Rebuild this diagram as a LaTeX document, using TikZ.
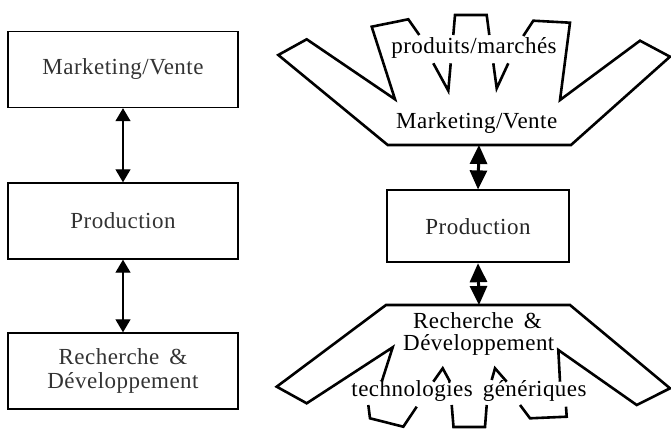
\documentclass[tikz,border=0pt]{standalone}
\usepackage{fontspec}
\setmainfont{Liberation Serif}[LetterSpace=2]
\usetikzlibrary{arrows.meta}
\begin{document}
\begin{tikzpicture}[x=1pt,y=-1pt,
  txt/.style={font=\fontsize{23}{24}\selectfont, inner sep=0pt},
  leftbox/.style={draw, line width=1.4pt, minimum width=230pt, minimum height=76pt, align=center, text=black!80, font=\fontsize{23}{24}\selectfont},
  rightbox/.style={draw, line width=1.8pt, minimum width=182pt, minimum height=72pt, text=black!85, font=\fontsize{23}{24}\selectfont},
  outline/.style={line width=2.6pt, line join=miter},
  thinarrow/.style={line width=1.3pt, {Triangle[length=13pt,width=15pt]}-{Triangle[length=13pt,width=15pt]}},
  thickarrow/.style={line width=3pt, {Triangle[length=19pt,width=17pt]}-{Triangle[length=19pt,width=17pt]}}]
\clip (0,0) rectangle (671,430);
\fill[white] (0,0) rectangle (671,430);

% left column
\node[leftbox] (lmv) at (123,69.5) {Marketing/Vente};
\node[leftbox] (lpr) at (123,221) {Production};
\node[leftbox] (lrd) at (123,371) {Recherche \,\&\\Développement};
\draw[thinarrow] (lmv.south) -- (lpr.north);
\draw[thinarrow] (lpr.south) -- (lrd.north);

% right column: top shape
\draw[outline] (419.3,35) -- (408.3,19.3) -- (371.7,26.7) -- (395,99.3) -- (306.7,39.3)
  -- (278.3,55) -- (387.7,145) -- (571,145) -- (670,56.7) -- (640,40.7) -- (560,100)
  -- (570,22.7) -- (533.3,20.7) -- (523.3,36);
\draw[outline] (433.3,63.3) -- (448.3,90.7) -- (450.7,63.3);
\draw[outline] (453.3,35) -- (455,15) -- (486.7,15) -- (489.3,35);
\draw[outline] (493.3,63.3) -- (496.7,88.3) -- (508.3,63.3);
\node[txt, anchor=base] (pm) at (474,53.3) {produits/marchés};
\node[txt, anchor=base] (rmv) at (476.7,128.3) {Marketing/Vente};
\coordinate (mvb) at (479,145);

% production box
\node[rightbox] (rpr) at (478,226.3) {Production};

% bottom shape
\draw[outline] (381.7,381.7) -- (392.7,347.3) -- (306.7,403.3) -- (276.7,386.7) -- (386,305)
  -- (570,305) -- (670,388.3) -- (636.7,405) -- (558.3,350) -- (560,381.7);
\draw[outline] (416.7,406.7) -- (403.3,426.7) -- (370,418.3) -- (368.3,405);
\draw[outline] (433.3,381.7) -- (442.7,368.3) -- (450,381.7);
\draw[outline] (451.7,405) -- (453.5,427) -- (485,427) -- (486.7,405);
\draw[outline] (491.7,380) -- (495,368.3) -- (506.7,381.7);
\draw[outline] (520,405) -- (530,418.3) -- (566.7,416.7) -- (566,406.7);
\coordinate (rdt) at (479,305);
\node[txt, anchor=base] (rd1) at (477.5,328.3) {Recherche \,\&};
\node[txt, anchor=base] (rd2) at (478.8,350) {Développement};
\node[txt, anchor=base] (tg) at (469,396.7) {technologies\, génériques};

\draw[thickarrow] (mvb) -- (rpr.north);
\draw[thickarrow] (rpr.south) -- (rdt);
\end{tikzpicture}
\end{document}
